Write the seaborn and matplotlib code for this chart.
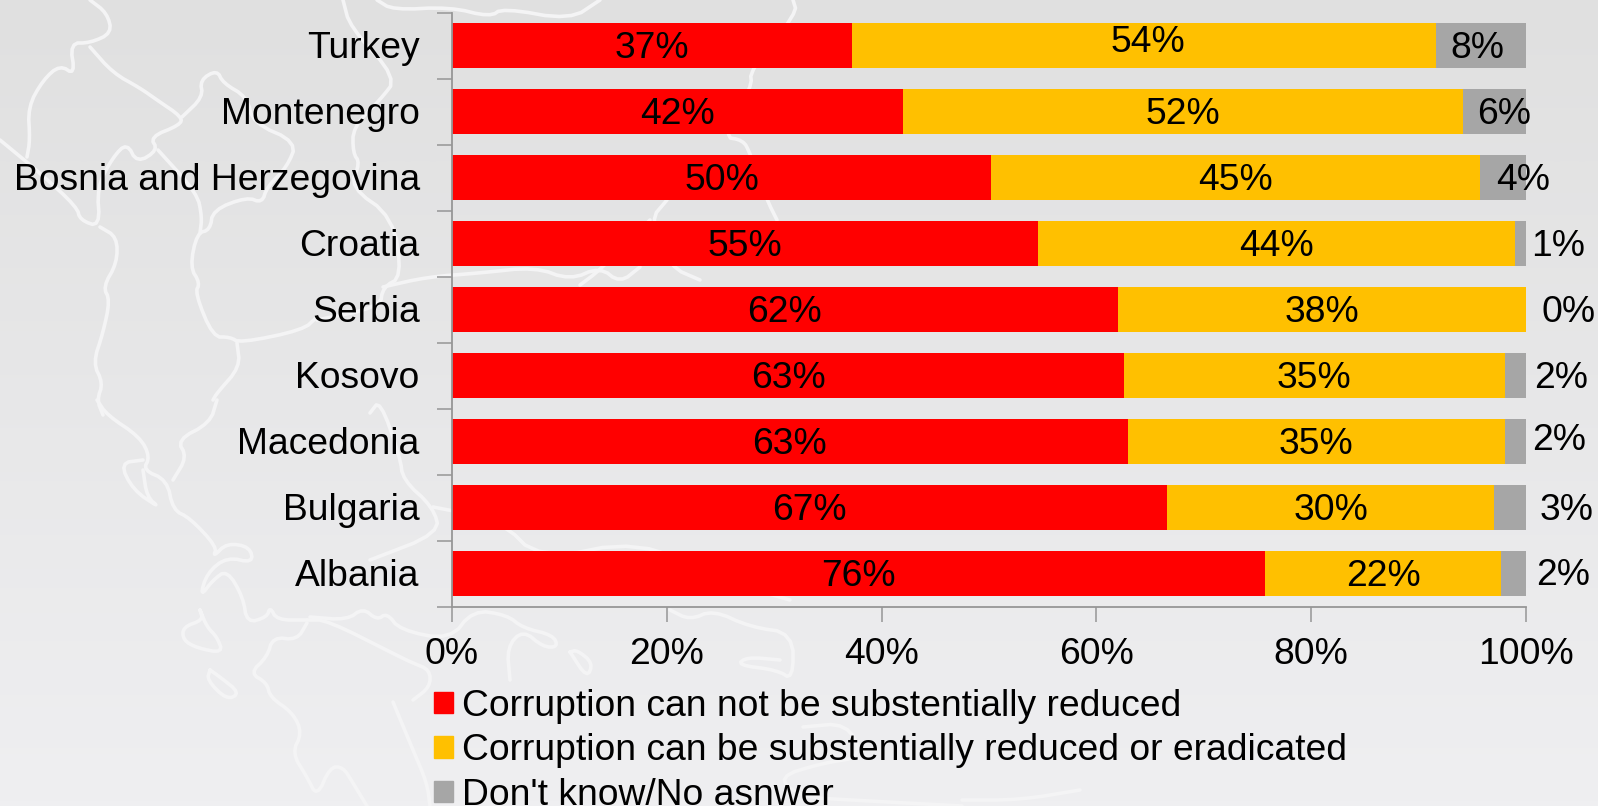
import numpy as np
import pandas as pd
import matplotlib
matplotlib.use("Agg")
import matplotlib.pyplot as plt
from matplotlib.patches import Patch
from matplotlib.transforms import ScaledTranslation
import seaborn as sns

countries = ["Turkey", "Montenegro", "Bosnia and Herzegovina", "Croatia", "Serbia",
             "Kosovo", "Macedonia", "Bulgaria", "Albania"]
cannot_reduce = [37.2, 42.0, 50.2, 54.6, 62.0, 62.6, 62.9, 66.6, 75.7]
can_reduce = [54.4, 52.1, 45.5, 44.4, 38.0, 35.4, 35.1, 30.4, 22.0]
dont_know = [8.4, 5.9, 4.3, 1.0, 0.0, 2.0, 2.0, 3.0, 2.3]
cannot_labels = ["37%", "42%", "50%", "55%", "62%", "63%", "63%", "67%", "76%"]
can_labels = ["54%", "52%", "45%", "44%", "38%", "35%", "35%", "30%", "22%"]
dk_labels = ["8%", "6%", "4%", "1%", "0%", "2%", "2%", "3%", "2%"]
dk_label_x = [95.5, 98.0, 99.7, 103.0, 104.0, 103.3, 103.1, 103.8, 103.5]
can_label_dx = [0.4, 0, 0, 0, 0, 0, 0, 0, 0]
can_label_dy = [-0.05, 0.05, 0.05, 0.05, 0.05, 0.05, 0.05, 0.05, 0.05]
dk_label_dy = [0.05, 0.05, 0.05, 0.04, 0.05, 0.05, -0.01, 0.05, 0.02]
series_names = ["Corruption can not be substentially reduced",
                "Corruption can be substentially reduced or eradicated",
                "Don't know/No asnwer"]
RED, AMBER, GREY = "#FF0000", "#FFC000", "#A6A6A6"
INK = "#000000"

# decorative map outline behind the chart, in picture pixels
map_paths = [
    [(90,0),(107,13),(112,33),(90,43),(70,43),(75,75),(60,65),(43,80),(28,107),(30,140),(27,157)],
    [(90,47),(113,73),(140,88),(157,100),(182,117),(180,125),(150,137),(158,150),(137,163),(127,143),(113,157),(97,187),(100,227),(80,220),(77,207),(40,173),(0,140)],
    [(182,117),(203,97),(200,80),(217,70),(223,83),(247,97),(253,123),(297,142),(287,167),(267,187),(262,203),(247,197),(213,210),(210,230),(197,233),(190,267),(200,283),(195,293),(213,337),(230,337),(240,343),(303,330),(317,317)],
    [(158,150),(197,193),(202,217),(200,233)],
    [(100,227),(117,237),(117,263),(103,287),(110,300),(103,333),(93,363),(103,383),(97,400),(103,415)],
    [(343,0),(350,27),(397,78),(380,100),(353,127),(353,153),(360,163),(350,187),(393,217),(402,277),(383,287),(380,307),(317,320)],
    [(383,287),(427,277),(480,273),(535,267),(570,280),(600,267),(620,283),(640,267)],
    [(237,343),(240,367),(217,393),(213,400)],
    [(377,0),(393,10),(450,7),(490,17),(503,8),(570,20),(600,0)],
    [(793,0),(797,13),(750,70),(752,87),(723,137),(743,140),(750,153),(767,200),(777,220)],
    [(667,200),(650,220),(670,267),(700,280)],
    [(97,400),(107,415),(140,437),(150,457),(143,470),(167,480),(173,510),(190,518),(217,547),(213,557),(227,543),(250,547),(253,563),(227,557),(207,573),(200,597),(213,580),(227,570),(243,597),(247,623),(267,617),(270,607),(277,620),(307,620)],
    [(217,400),(210,423),(177,440),(187,457),(173,480)],
    [(143,460),(120,463),(133,490),(160,508),(147,497),(143,470)],
    [(200,610),(203,620),(183,627),(183,640),(197,648),(223,653),(217,637),(207,627),(200,610)],
    [(210,670),(207,680),(227,700),(240,693),(220,677),(210,670)],
    [(307,620),(327,620),(400,657),(413,663),(430,670),(430,687),(413,700)],
    [(307,623),(297,640),(273,637),(267,657),(250,673),(267,683),(270,697),(293,713),(302,733),(292,753),(307,777),(317,797),(330,767),(343,767),(353,783),(367,806)],
    [(310,617),(347,620),(363,608),(377,620),(387,613),(400,630),(450,640),(473,610),(507,615),(523,628),(553,635),(558,647),(543,647),(523,630),(507,647),(510,680)],
    [(393,702),(413,750),(427,783),(430,806)],
    [(370,413),(380,400),(400,457),(403,480),(433,507),(440,533),(370,560)],
    [(433,507),(500,520),(540,560),(640,540),(720,580),(790,600)],
    [(570,652),(587,678),(593,663),(577,650),(570,652)],
    [(670,610),(690,620),(713,610),(750,627),(793,633),(793,680),(777,670),(737,665),(747,657),(780,660)],
    [(803,727),(847,723),(863,757),(823,763),(777,777),(801,797),(850,800),(962,806)],
    [(962,800),(1020,800),(1080,790)],
    [(650,220),(600,270),(580,285)],
]


def smooth(path, rounds=2):
    pts = np.asarray(path, dtype=float)
    for _ in range(rounds):
        q = 0.75 * pts[:-1] + 0.25 * pts[1:]
        r = 0.25 * pts[:-1] + 0.75 * pts[1:]
        mid = np.empty((q.shape[0] * 2, 2))
        mid[0::2], mid[1::2] = q, r
        pts = np.vstack([pts[0], mid, pts[-1]])
    return pts


W, H = 1598, 806
sns.set_theme(style="white")
plt.rcParams["font.family"] = ["Liberation Sans", "DejaVu Sans"]

fig = plt.figure(figsize=(W / 100, H / 100), dpi=100)

# background: soft vertical grey gradient with the white outline
bg = fig.add_axes([0, 0, 1, 1], zorder=0)
bg.imshow(np.linspace(0, 1, 256)[:, None], extent=(0, W, H, 0), aspect="auto",
          cmap=matplotlib.colors.LinearSegmentedColormap.from_list("bg", ["#E0E0E0", "#EFEFF1"]),
          interpolation="bilinear")
for path in map_paths:
    pts = smooth(path)
    bg.plot(pts[:, 0], pts[:, 1], color="#F4F4F5", lw=2.6, solid_joinstyle="round",
            solid_capstyle="round")
bg.set_xlim(0, W)
bg.set_ylim(H, 0)
bg.axis("off")

AX_L, AX_R, AX_T, AX_B = 452, 1526, 12.5, 606.7
ax = fig.add_axes([AX_L / W, 1 - AX_B / H, (AX_R - AX_L) / W, (AX_B - AX_T) / H], zorder=1)
ax.patch.set_alpha(0)

df = pd.DataFrame({"country": countries, "a": cannot_reduce, "b": can_reduce, "c": dont_know})
df["a_b"] = df["a"] + df["b"]
df["total"] = df["a_b"] + df["c"]

for col, colour in (("total", GREY), ("a_b", AMBER), ("a", RED)):
    sns.barplot(data=df, y="country", x=col, order=countries, orient="y",
                color=colour, width=0.68, saturation=1, linewidth=0, ax=ax)

ax.set_xlim(0, 100)
ax.set_ylim(len(countries) - 0.5, -0.5)
ax.set_xlabel("")
ax.set_ylabel("")
FS = 26.85

for i in range(len(countries)):
    ax.text(df["a"][i] / 2, i + 0.05, cannot_labels[i], ha="center", va="center",
            fontsize=FS, color=INK)
    ax.text(df["a"][i] + df["b"][i] / 2 + can_label_dx[i], i + can_label_dy[i], can_labels[i],
            ha="center", va="center", fontsize=FS, color=INK)
    ax.text(dk_label_x[i], i + dk_label_dy[i], dk_labels[i], ha="center", va="center",
            fontsize=FS, color=INK, clip_on=False)

ax.set_xticks(np.arange(0, 101, 20))
ax.set_xticklabels([f"{v}%" for v in range(0, 101, 20)], fontsize=FS, color=INK)
ax.set_yticks(np.arange(len(countries)))
ax.set_yticklabels(countries, fontsize=FS, color=INK)
ax.tick_params(axis="y", length=0, pad=23.3)
ax.tick_params(axis="x", length=11, width=1.1, color="#969696", pad=11, bottom=True)
# y ticks sit between categories
ax.set_yticks(np.arange(-0.5, len(countries)), minor=True)
ax.tick_params(axis="y", which="minor", length=11, width=1.1, color="#969696", left=True)
lift = ScaledTranslation(0, 1 / 100, fig.dpi_scale_trans)
for lab in ax.get_yticklabels():
    lab.set_transform(lab.get_transform() + lift)
for side in ("top", "right"):
    ax.spines[side].set_visible(False)
for side in ("left", "bottom"):
    ax.spines[side].set_color("#969696")
    ax.spines[side].set_linewidth(1.3)

handles = [Patch(color=c, label=n) for c, n in zip((RED, AMBER, GREY), series_names)]
leg = fig.legend(handles=handles, loc="upper left", bbox_to_anchor=(434 / W, 1 - 689 / H),
                 frameon=False, fontsize=FS, handlelength=0.5, handleheight=0.5,
                 handletextpad=0.25, labelspacing=0.25, borderpad=0, borderaxespad=0,
                 labelcolor=INK)

fig.savefig("out.png", dpi=100)
